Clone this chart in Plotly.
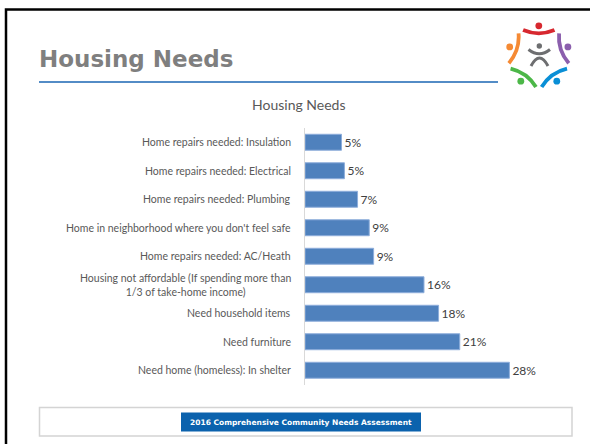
import math
import plotly.graph_objects as go

# ---- chart data -------------------------------------------------------
categories = [
    "Home repairs needed: Insulation",
    "Home repairs needed: Electrical",
    "Home repairs needed: Plumbing",
    "Home in neighborhood where you don't feel safe",
    "Home repairs needed: AC/Heath",
    "Housing not affordable (If spending more than<br>1/3 of take-home income)",
    "Need household items",
    "Need furniture",
    "Need home (homeless): In shelter",
]
shares = [0.050, 0.054, 0.072, 0.088, 0.094, 0.163, 0.183, 0.212, 0.280]

slide_title = "Housing Needs"
chart_title = "Housing Needs"
footer_text = "2016 Comprehensive Community Needs Assessment"

# ---- page geometry (pixels) -------------------------------------------
W, H = 590, 444


def px(x):
    return x / W


def py(y):
    return 1 - y / H


label_font = "Lato, 'Liberation Sans', sans-serif"
head_font = "'DejaVu Sans', 'Liberation Sans', sans-serif"

fig = go.Figure(
    go.Bar(
        x=shares,
        y=categories,
        orientation="h",
        width=0.56,
        marker=dict(color="#4f81bd", line=dict(color="#8eaedb", width=1)),
        texttemplate="%{x:.0%}",
        textposition="outside",
        textfont=dict(family=label_font, size=12, color="#404040"),
        cliponaxis=False,
        hoverinfo="skip",
    )
)

fig.update_layout(
    width=W,
    height=H,
    autosize=False,
    margin=dict(l=0, r=0, t=0, b=0),
    paper_bgcolor="white",
    plot_bgcolor="rgba(0,0,0,0)",
    showlegend=False,
    xaxis=dict(
        domain=[px(305), px(524)],
        range=[0, 0.30],
        visible=False,
        fixedrange=True,
    ),
    yaxis=dict(
        domain=[py(384.5), py(128)],
        categoryorder="array",
        categoryarray=categories,
        autorange="reversed",
        showticklabels=False,
        ticks="",
        showgrid=False,
        zeroline=False,
        showline=True,
        linecolor="#d9d9d9",
        linewidth=1,
        fixedrange=True,
    ),
)

annotations = []

# category labels, right-aligned against the axis, lines centred
for cat in categories:
    annotations.append(dict(
        x=px(293), xref="paper", y=cat, yref="y",
        xanchor="right", yanchor="middle", align="center",
        text=cat, showarrow=False,
        font=dict(family=label_font, size=10.5, color="#595959"),
    ))

# chart title
annotations.append(dict(
    x=px(298), y=py(104), xref="paper", yref="paper",
    xanchor="center", yanchor="middle", text=chart_title, showarrow=False,
    font=dict(family=label_font, size=14, color="#595959"),
))

# slide heading
annotations.append(dict(
    x=px(37), y=py(58.5), xref="paper", yref="paper",
    xanchor="left", yanchor="middle", text="<b>" + slide_title + "</b>",
    showarrow=False,
    font=dict(family=head_font, size=23, color="#7f7f7f"),
))

# footer banner text
annotations.append(dict(
    x=px(301), y=py(422), xref="paper", yref="paper",
    xanchor="center", yanchor="middle", text="<b>" + footer_text + "</b>",
    showarrow=False,
    font=dict(family=head_font, size=7.5, color="white"),
))

shapes = []

# slide frame (open on the right and bottom)
shapes.append(dict(type="rect", xref="paper", yref="paper",
                   x0=px(6), x1=px(620), y0=py(480), y1=py(9.5),
                   line=dict(color="black", width=2.5)))

# heading rule
shapes.append(dict(type="line", xref="paper", yref="paper",
                   x0=px(39), x1=px(498), y0=py(82), y1=py(82),
                   line=dict(color="#1a66b3", width=1.5)))

# footer boxes
shapes.append(dict(type="rect", xref="paper", yref="paper",
                   x0=px(39.5), x1=px(572), y0=py(436), y1=py(407.5),
                   line=dict(color="#d4d4d4", width=1.5)))
shapes.append(dict(type="rect", xref="paper", yref="paper",
                   x0=px(181), x1=px(421), y0=py(431.5), y1=py(412.5),
                   line=dict(width=0), fillcolor="#0b62ad"))


# ---- logo: five figures around a central one --------------------------
def circle(cx, cy, r, color):
    return dict(type="circle", xref="paper", yref="paper",
                x0=px(cx - r), x1=px(cx + r), y0=py(cy + r), y1=py(cy - r),
                line=dict(width=0), fillcolor=color)


def curve(p0, c, p2, color, width):
    path = "M {:.5f},{:.5f} Q {:.5f},{:.5f} {:.5f},{:.5f}".format(
        px(p0[0]), py(p0[1]), px(c[0]), py(c[1]), px(p2[0]), py(p2[1]))
    return dict(type="path", xref="paper", yref="paper", path=path,
                line=dict(color=color, width=width))


logo_cx, logo_cy = 538.8, 56.4
head = (0.0, -30.6)
arm = [(-15.7, -26.4), (0.0, -19.8), (15.7, -26.4)]
figures = [
    (-90, "#d7282f"),
    (-18, "#8b5fad"),
    (54, "#0a8fd6"),
    (126, "#4cb748"),
    (198, "#f58a34"),
]


def rot(p, deg):
    t = math.radians(deg + 90)
    x, y = p
    return (logo_cx + x * math.cos(t) - y * math.sin(t),
            logo_cy + x * math.sin(t) + y * math.cos(t))


for ang, col in figures:
    hx, hy = rot(head, ang)
    shapes.append(circle(hx, hy, 3.4, col))
    a0, ac, a2 = (rot(p, ang) for p in arm)
    shapes.append(curve(a0, ac, a2, col, 3.8))

# central figure
shapes.append(circle(539.3, 46.0, 2.7, "#6d6e70"))
shapes.append(curve((528.5, 49.5), (539.3, 58.0), (550.0, 49.5), "#6d6e70", 3))
shapes.append(curve((531.0, 66.0), (539.5, 50.0), (548.0, 66.0), "#6d6e70", 3))

fig.update_layout(annotations=annotations, shapes=shapes)

fig.write_html("out.html", config={"displayModeBar": False})
